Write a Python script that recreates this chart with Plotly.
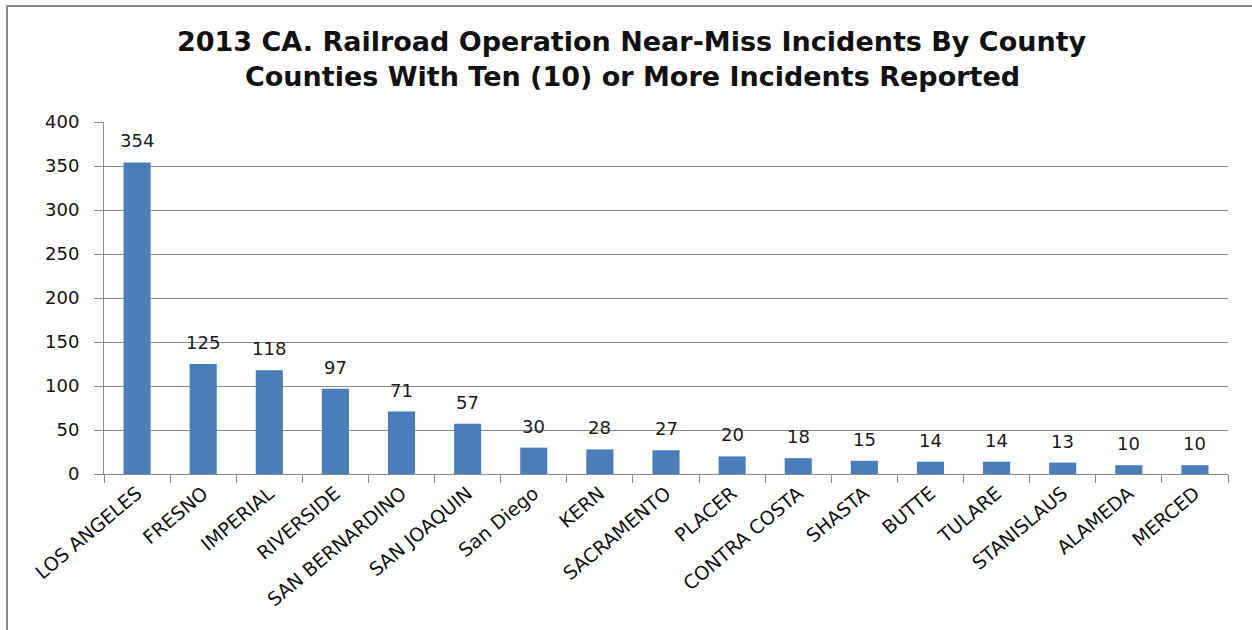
import plotly.graph_objects as go

counties = ["LOS ANGELES", "FRESNO", "IMPERIAL", "RIVERSIDE", "SAN BERNARDINO",
            "SAN JOAQUIN", "San Diego", "KERN", "SACRAMENTO", "PLACER",
            "CONTRA COSTA", "SHASTA", "BUTTE", "TULARE", "STANISLAUS",
            "ALAMEDA", "MERCED"]
incidents = [354, 125, 118, 97, 71, 57, 30, 28, 27, 20, 18, 15, 14, 14, 13, 10, 10]
y_ticks = [0, 50, 100, 150, 200, 250, 300, 350, 400]
title_lines = ["2013 CA. Railroad Operation Near-Miss Incidents By County",
               "Counties With Ten (10) or More Incidents Reported"]

FONT = "DejaVu Sans, Verdana, sans-serif"
GRID = "#8c8c8c"

fig = go.Figure(go.Bar(
    x=counties,
    y=incidents,
    marker=dict(color="#4A7EBB", line=dict(width=0)),
    width=0.41,
    hoverinfo="x+y",
))

# value labels above each bar
value_labels = [
    dict(x=c, y=v, text=str(v), xref="x", yref="y",
         xanchor="center", yanchor="bottom", yshift=9, showarrow=False,
         font=dict(family=FONT, size=18, color="#1a1a1a"))
    for c, v in zip(counties, incidents)
]

# two-line chart title
title_annots = [
    dict(x=0.4698, y=yy, xref="paper", yref="paper", text=f"<b>{t}</b>",
         xanchor="center", yanchor="middle", showarrow=False,
         font=dict(family=FONT, size=27, color="#111111"))
    for t, yy in zip(title_lines, [1.229, 1.13])
]

fig.update_layout(
    width=1252, height=630,
    margin=dict(l=104, r=24, t=122, b=156),
    paper_bgcolor="white", plot_bgcolor="white",
    showlegend=False,
    font=dict(family=FONT, color="#111111"),
    annotations=title_annots + value_labels,
    shapes=[dict(
        type="rect", xref="paper", yref="paper",
        x0=-0.0863, x1=1.03, y0=-0.47, y1=1.3295,
        line=dict(color="#8a8a8a", width=2), layer="below",
    )],
)

fig.update_xaxes(
    type="category",
    tickangle=-40,
    tickfont=dict(family=FONT, size=19, color="#111111"),
    ticks="outside", tickson="boundaries", ticklen=8, tickcolor=GRID,
    showline=True, linecolor=GRID, linewidth=1,
    showgrid=False,
)
fig.update_yaxes(
    range=[0, 400],
    tickvals=y_ticks,
    tickfont=dict(family=FONT, size=18, color="#111111"),
    ticks="outside", ticklen=9, tickcolor=GRID,
    ticklabelstandoff=11,
    showline=True, linecolor=GRID, linewidth=1,
    showgrid=True, gridcolor=GRID, gridwidth=1,
    zeroline=False,
)

fig.write_html("out.html")
